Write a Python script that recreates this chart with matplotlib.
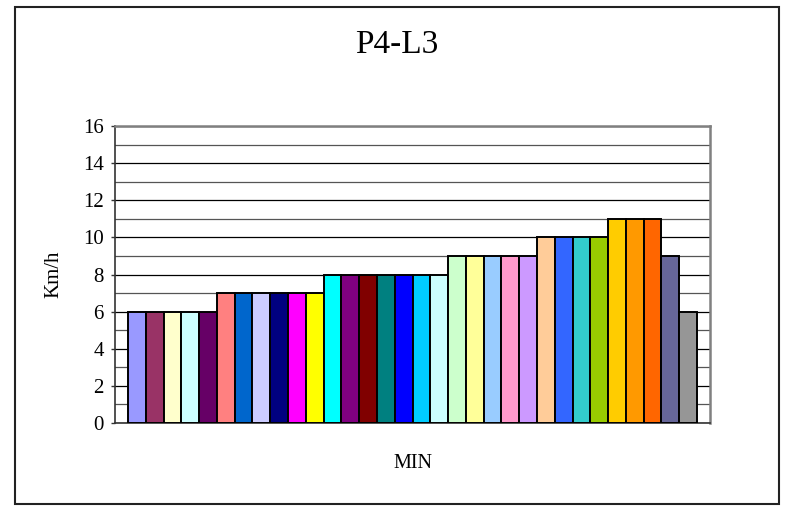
import matplotlib
matplotlib.use("Agg")
import matplotlib.pyplot as plt
from matplotlib.patches import Rectangle
from matplotlib.ticker import MultipleLocator

title = "P4-L3"
x_label = "MIN"
y_label = "Km/h"
values = [6, 6, 6, 6, 6,
          7, 7, 7, 7, 7, 7,
          8, 8, 8, 8, 8, 8, 8,
          9, 9, 9, 9, 9,
          10, 10, 10, 10,
          11, 11, 11,
          9, 6]
colors = ["#9999FF", "#993366", "#FFFFCC", "#CCFFFF", "#660066",
          "#FF8080", "#0066CC", "#CCCCFF", "#000080", "#FF00FF", "#FFFF00",
          "#00FFFF", "#800080", "#800000", "#008080", "#0000FF", "#00CCFF", "#CCFFFF",
          "#CCFFCC", "#FFFF99", "#99CCFF", "#FF99CC", "#CC99FF",
          "#FFCC99", "#3366FF", "#33CCCC", "#99CC00",
          "#FFCC00", "#FF9900", "#FF6600",
          "#666699", "#969696"]
y_ticks = [0, 2, 4, 6, 8, 10, 12, 14, 16]

plt.rcParams["font.family"] = ["Liberation Serif", "DejaVu Serif"]

fig = plt.figure(figsize=(7.87, 5.11), dpi=100)
fig.patch.set_facecolor("white")

# outer border
fig.patches.append(Rectangle((15/787, 1 - 504/511), (779-15)/787, (504-7)/511,
                             transform=fig.transFigure, fill=False,
                             edgecolor="#222222", linewidth=1.5))

ax = fig.add_axes([115/787, 1 - 423/511, (710-115)/787, (423-126)/511])
n = len(values)
x = list(range(n))
ax.bar(x, values, width=1.0, color=colors, edgecolor="black", linewidth=1.4, zorder=3)

ax.set_ylim(0, 16)
pad = 0.73
ax.set_xlim(-0.5 - pad, n - 0.5 + pad)
ax.set_yticks(y_ticks)
ax.set_yticklabels([str(t) for t in y_ticks], fontsize=15)
ax.yaxis.set_minor_locator(MultipleLocator(1))
ax.set_xticks([])
ax.grid(True, which="major", axis="y", color="black", linewidth=0.9, zorder=0)
ax.grid(True, which="minor", axis="y", color="#555555", linewidth=0.9, zorder=0)
ax.set_axisbelow(True)
ax.tick_params(axis="y", which="major", length=3, width=1, color="#333333", pad=5)
ax.tick_params(axis="y", which="minor", length=0)

ax.spines["left"].set_color("#333333")
ax.spines["left"].set_linewidth(1.2)
ax.spines["bottom"].set_color("#333333")
ax.spines["bottom"].set_linewidth(1.2)
ax.spines["top"].set_color("#808080")
ax.spines["top"].set_linewidth(1.8)
ax.spines["right"].set_color("#808080")
ax.spines["right"].set_linewidth(1.8)

fig.text(397/787, 1 - 45/511, title, ha="center", va="center", fontsize=24)
fig.text(413/787, 1 - 463/511, x_label, ha="center", va="center", fontsize=14.5)
fig.text(54/787, 1 - 274/511, y_label, ha="center", va="center", rotation=90, fontsize=15)

fig.savefig("out.png", dpi=100, facecolor="white")
